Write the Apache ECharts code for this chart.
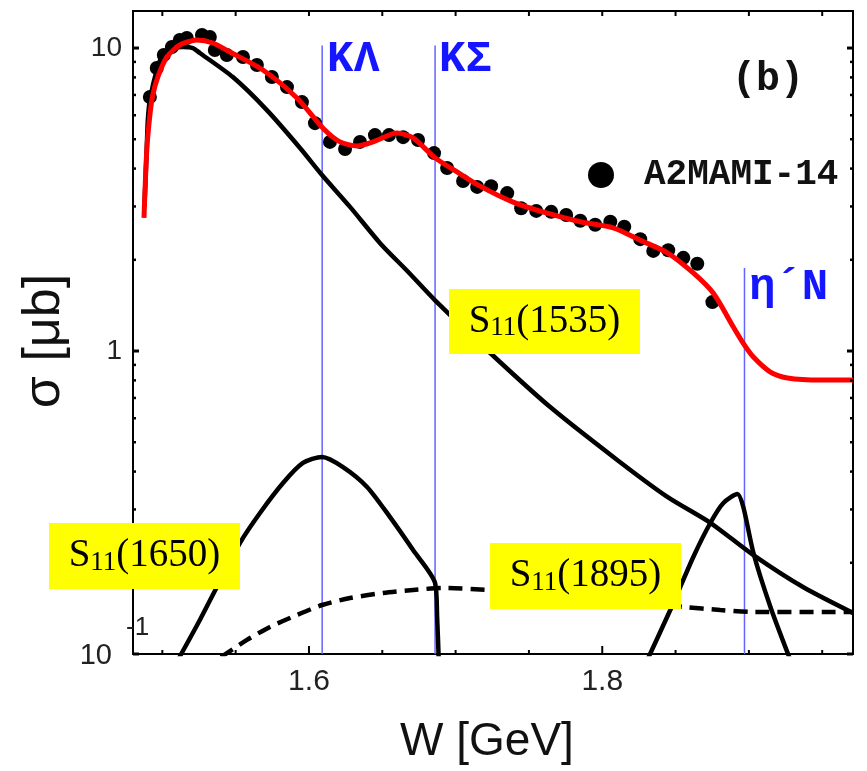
<!DOCTYPE html>
<html lang="en">
<head>
<meta charset="UTF-8">
<title>eta photoproduction cross section</title>
<script src="https://cdn.jsdelivr.net/npm/echarts@6.0.0/dist/echarts.min.js"></script>
<style>
  html, body { margin: 0; padding: 0; background: #fff; }
  #main { width: 867px; height: 771px; }
</style>
</head>
<body>
<div id="main"></div>
<script>
// A2MAMI-14 points (W in GeV, sigma in microbarn)
var dataW = [1.4915, 1.4962, 1.5010, 1.5065, 1.5119, 1.5167, 1.5270, 1.5324, 1.5358, 1.5440,
             1.5550, 1.5645, 1.5747, 1.5850, 1.5952, 1.6041, 1.6143, 1.6246, 1.6348, 1.6450,
             1.6546, 1.6642, 1.6744, 1.6853, 1.6942, 1.7051, 1.7147, 1.7242, 1.7352, 1.7447,
             1.7550, 1.7652, 1.7754, 1.7850, 1.7952, 1.8055, 1.8150, 1.8259, 1.8348, 1.8450,
             1.8553, 1.8648, 1.8751];
var dataSigma = [6.89, 8.59, 9.48, 10.08, 10.63, 10.79, 11.04, 10.87, 9.85, 9.48,
                 9.34, 8.79, 8.02, 7.43, 6.63, 5.65, 4.90, 4.64, 4.90, 5.16,
                 5.16, 5.08, 4.97, 4.50, 4.02, 3.64, 3.48, 3.50, 3.32, 2.96,
                 2.90, 2.88, 2.81, 2.69, 2.61, 2.67, 2.57, 2.34, 2.14, 2.15,
                 2.03, 1.94, 1.45];

// total fit (red)
var totalW = [1.4875, 1.4894, 1.4915, 1.4935, 1.4969, 1.5031, 1.5119, 1.5235, 1.5345, 1.5461,
              1.5686, 1.5918, 1.6096, 1.6212, 1.6328, 1.6437, 1.6600, 1.6710, 1.6860, 1.7010,
              1.7167, 1.7392, 1.7625, 1.7850, 1.8075, 1.8259, 1.8444, 1.8621, 1.8758, 1.8894,
              1.8962, 1.9031, 1.9147, 1.9263, 1.9488, 1.9710];
var totalSigma = [2.75, 4.6, 6.0, 7.0, 8.02, 9.34, 10.23, 10.63, 10.39, 9.70,
                  8.46, 6.84, 5.44, 4.90, 4.75, 4.90, 5.24, 5.05, 4.34, 3.90,
                  3.50, 3.10, 2.85, 2.67, 2.55, 2.32, 2.11, 1.81, 1.55, 1.20,
                  1.06, 0.955, 0.852, 0.815, 0.802, 0.802];

// S11(1535)
var s1535W = [1.4878, 1.4894, 1.4901, 1.4915, 1.4962, 1.5003, 1.5072, 1.5140, 1.5208, 1.5256,
              1.5481, 1.5713, 1.5939, 1.6089, 1.6280, 1.6485, 1.6669, 1.6860, 1.7236, 1.7645,
              1.8102, 1.8444, 1.8737, 1.9031, 1.9372, 1.9710];
var s1535Sigma = [3.0, 4.71, 5.77, 6.74, 8.46, 9.48, 10.0, 10.08, 10.0, 9.63,
                  8.02, 6.24, 4.68, 3.81, 2.99, 2.27, 1.84, 1.47, 0.985, 0.653,
                  0.437, 0.330, 0.271, 0.212, 0.166, 0.1366];

// S11(1650)
var s1650W = [1.5106, 1.5256, 1.5372, 1.5529, 1.5666, 1.5823, 1.5959, 1.6089, 1.6232, 1.6396,
              1.6553, 1.6710, 1.6860, 1.6874, 1.6885];
var s1650Sigma = [0.0955, 0.1295, 0.1664, 0.2324, 0.292, 0.3667, 0.427, 0.447, 0.414, 0.356,
                  0.283, 0.2204, 0.1715, 0.1325, 0.0955];

// S11(1895)
var s1895W = [1.8307, 1.8464, 1.8621, 1.8737, 1.8826, 1.8922, 1.8962, 1.9031, 1.9147, 1.9283];
var s1895Sigma = [0.0955, 0.1397, 0.209, 0.2706, 0.315, 0.3373, 0.3056, 0.2155, 0.143, 0.0955];

// dashed curve
var dashW = [1.5400, 1.5577, 1.5734, 1.5918, 1.6089, 1.6280, 1.6505, 1.6710, 1.6915, 1.7215,
             1.7713, 1.8191, 1.8553, 1.8805, 1.9031, 1.9710];
var dashSigma = [0.0977, 0.1113, 0.1228, 0.1345, 0.1451, 0.153, 0.159, 0.1627, 0.1651, 0.1627,
                 0.1565, 0.1485, 0.143, 0.1397, 0.1376, 0.1376];

// thresholds K Lambda, K Sigma, eta' N
var thresholdW = [1.609, 1.686, 1.897];
var thresholdTop = [10.2, 10.2, 1.88];

// ticks
var xMajorTicks = [1.6, 1.8];
var xMinorTicks = [1.5, 1.55, 1.65, 1.7, 1.75, 1.85, 1.9, 1.95];
var yMajorTicks = [0.1, 1, 10];
var yMinorTicks = [0.2, 0.3, 0.4, 0.5, 0.6, 0.7, 0.8, 0.9, 2, 3, 4, 5, 6, 7, 8, 9];

var xMin = 1.48, xMax = 1.971, yMin = 0.1, yMax = 13.25;

function pairs(xs, ys) {
    return xs.map(function (x, i) { return [x, ys[i]]; });
}

var tickData = [];
xMajorTicks.forEach(function (v) { tickData.push([v, yMin, 0]); });
xMinorTicks.forEach(function (v) { tickData.push([v, yMin, 1]); });
yMajorTicks.forEach(function (v) { tickData.push([xMin, v, 2]); });
yMinorTicks.forEach(function (v) { tickData.push([xMin, v, 3]); });

function renderTick(params, api) {
    var cs = params.coordSys;
    var p = api.coord([api.value(0), api.value(1)]);
    var kind = api.value(2);
    var left = cs.x, right = cs.x + cs.width, top = cs.y, bottom = cs.y + cs.height;
    var segs, lw = 2;
    if (kind === 0 || kind === 1) {
        var lb = kind === 0 ? 8 : 4;
        segs = [[p[0], bottom, p[0], bottom - lb], [p[0], top, p[0], top + 5]];
    } else {
        var l = kind === 2 ? 6 : 3;
        lw = kind === 2 ? 3 : 2.5;
        segs = [[left, p[1], left + l, p[1]], [right, p[1], right - l, p[1]]];
    }
    return {
        type: 'group',
        children: segs.map(function (s) {
            return {
                type: 'line',
                shape: { x1: s[0], y1: s[1], x2: s[2], y2: s[3] },
                style: { stroke: '#000', lineWidth: lw }
            };
        })
    };
}

var thresholdSeries = thresholdW.map(function (w, i) {
    return {
        type: 'line',
        data: [[w, yMin], [w, thresholdTop[i]]],
        symbol: 'none',
        lineStyle: { color: '#6464ff', width: 1.5 },
        z: 1
    };
});

function curve(xs, ys, color, width, type) {
    return {
        type: 'line',
        data: pairs(xs, ys),
        symbol: 'none',
        smooth: 0.25,
        lineStyle: { color: color, width: width, type: type || 'solid', opacity: 1 },
        z: 3
    };
}

var serifRich = {
    n: { fontFamily: 'Liberation Serif', fontSize: 39, lineHeight: 40, color: '#000' },
    s: { fontFamily: 'Liberation Serif', fontSize: 27, lineHeight: 18, verticalAlign: 'bottom', color: '#000' }
};

function yellowLabel(x, y, w, h, num) {
    return {
        type: 'group',
        children: [
            { type: 'rect', shape: { x: x, y: y, width: w, height: h }, style: { fill: '#ffff00' }, z: 10 },
            {
                type: 'text', x: x + w / 2, y: y + h / 2, z: 11,
                style: {
                    text: '{n|S}{s|11}{n|(' + num + ')}',
                    rich: serifRich, align: 'center', verticalAlign: 'middle'
                }
            }
        ]
    };
}

var monoBlue = { fontFamily: 'Liberation Mono', fontWeight: 'bold', fontSize: 44, fill: '#1515ff' };

var chart = echarts.init(document.getElementById('main'));
var option = {
    animation: false,
    backgroundColor: '#fff',
    grid: {
        left: 133, top: 11, right: 14, bottom: 117,
        show: true, borderColor: '#000', borderWidth: 2,
        outerBoundsMode: 'none'
    },
    legend: {
        data: [{ name: 'A2MAMI-14', icon: 'circle' }],
        left: 583, top: 152,
        itemWidth: 76, itemHeight: 26,
        symbolKeepAspect: true,
        textStyle: { fontFamily: 'Liberation Mono', fontWeight: 'bold', fontSize: 36, color: '#111' }
    },
    xAxis: {
        type: 'value', min: xMin, max: xMax, interval: 0.01,
        axisLine: { show: false }, axisTick: { show: false }, splitLine: { show: false },
        axisLabel: {
            interval: 0, margin: 13,
            fontFamily: 'Liberation Sans', fontSize: 30, color: '#222',
            formatter: function (v) {
                for (var i = 0; i < xMajorTicks.length; i++) {
                    if (Math.abs(v - xMajorTicks[i]) < 1e-6) return xMajorTicks[i].toFixed(1);
                }
                return '';
            }
        }
    },
    yAxis: {
        type: 'log', logBase: 10, min: yMin, max: yMax,
        axisLine: { show: false }, axisTick: { show: false }, splitLine: { show: false },
        axisLabel: {
            margin: 11, fontFamily: 'Liberation Sans', fontSize: 28, color: '#222',
            formatter: function (v) {
                if (Math.abs(v - 10) < 1e-6) return '10';
                if (Math.abs(v - 1) < 1e-6) return '1';
                if (Math.abs(v - 0.1) < 1e-6) return '{low|10}';
                return '';
            },
            rich: {
                low: { fontFamily: 'Liberation Sans', fontSize: 29, color: '#222', padding: [4, 10, 0, 0] }
            }
        }
    },
    graphic: [
        { type: 'text', x: 327, y: 60, style: Object.assign({ text: 'K\u039b', verticalAlign: 'middle', align: 'left' }, monoBlue) },
        { type: 'text', x: 439, y: 60, style: Object.assign({ text: 'K\u03a3', verticalAlign: 'middle', align: 'left' }, monoBlue) },
        { type: 'text', x: 749, y: 288, style: Object.assign({ text: '\u03b7\u00b4N', verticalAlign: 'middle', align: 'left' }, monoBlue) },
        {
            type: 'text', x: 768, y: 80,
            style: { text: '(b)', fontFamily: 'Liberation Mono', fontWeight: 'bold', fontSize: 40, fill: '#111', align: 'center', verticalAlign: 'middle' }
        },
        {
            type: 'text', x: 126, y: 628,
            style: { text: '-1', fontFamily: 'Liberation Sans', fontSize: 26, fill: '#222', align: 'left', verticalAlign: 'middle' }
        },
        {
            type: 'text', x: 45, y: 341, rotation: Math.PI / 2,
            style: { text: '\u03c3 [\u03bcb]', fontFamily: 'Liberation Sans', fontSize: 52, fill: '#111', align: 'center', verticalAlign: 'middle' }
        },
        {
            type: 'text', x: 487, y: 742,
            style: { text: 'W [GeV]', fontFamily: 'Liberation Sans', fontSize: 46, fill: '#111', align: 'center', verticalAlign: 'middle' }
        },
        yellowLabel(449, 289, 191, 65, '1535'),
        yellowLabel(49, 523, 191, 66, '1650'),
        yellowLabel(490, 543, 191, 66, '1895')
    ],
    series: [
        {
            type: 'custom', renderItem: renderTick, data: tickData, z: 5, silent: true
        },
        {
            name: 'A2MAMI-14', type: 'scatter', data: pairs(dataW, dataSigma),
            symbol: 'circle', symbolSize: 14, itemStyle: { color: '#000', opacity: 1 }, z: 2
        }
    ].concat(thresholdSeries).concat([
        curve(s1535W, s1535Sigma, '#000', 4.5),
        curve(s1650W, s1650Sigma, '#000', 4.5),
        curve(s1895W, s1895Sigma, '#000', 4.5),
        curve(dashW, dashSigma, '#000', 4.5, [14, 8]),
        curve(totalW, totalSigma, '#ff0000', 5)
    ])
};
chart.setOption(option);
</script>
</body>
</html>
